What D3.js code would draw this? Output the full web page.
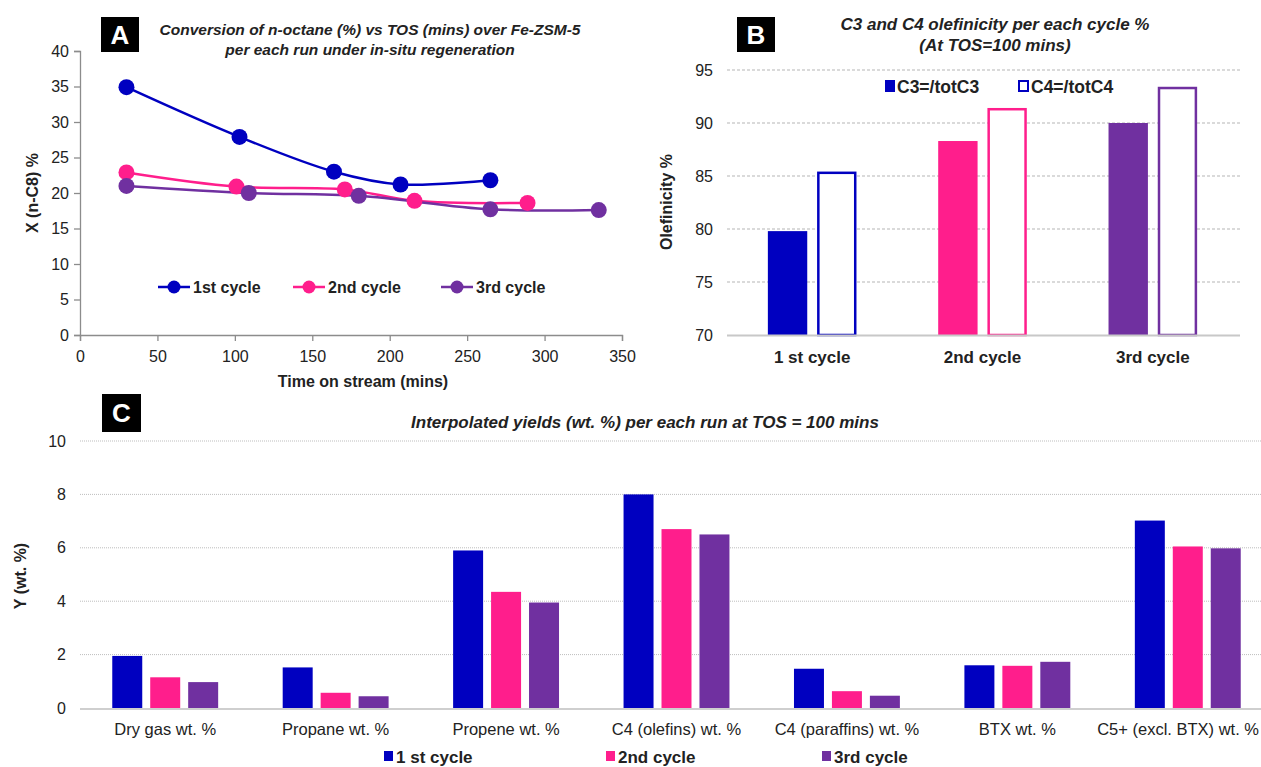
<!DOCTYPE html>
<html>
<head>
<meta charset="utf-8">
<script src="https://cdn.jsdelivr.net/npm/d3@7"></script>
<style>
  body { margin: 0; background: #fff; }
  svg { font-family: "Liberation Sans", Arial, sans-serif; }
</style>
</head>
<body>
<svg id="chart" width="1261" height="767"></svg>
<script>
// ---- data ----
const cycles = ["1st cycle", "2nd cycle", "3rd cycle"];
const colors = ["#0000C0", "#FF1E8C", "#7030A0"];

// panel A: conversion vs TOS
const tos1 = [30, 103, 164, 207, 265];
const conv1 = [34.9, 27.9, 23.0, 21.2, 21.8];
const tos2 = [30, 101, 171, 216, 289];
const conv2 = [22.9, 20.9, 20.5, 18.9, 18.6];
const tos3 = [30, 109, 180, 265, 335];
const conv3 = [21.0, 20.0, 19.6, 17.7, 17.6];

// panel B: olefinicity
const cycleLabelsB = ["1 st cycle", "2nd cycle", "3rd cycle"];
const c3Olef = [79.8, 88.3, 90.0];
const c4Olef = [85.3, 91.3, 93.3];

// panel C: yields
const products = ["Dry gas wt. %", "Propane wt. %", "Propene wt. %", "C4 (olefins) wt. %",
  "C4 (paraffins) wt. %", "BTX wt. %", "C5+ (excl. BTX) wt. %"];
const yield1 = [1.95, 1.52, 5.9, 8.0, 1.47, 1.6, 7.02];
const yield2 = [1.15, 0.57, 4.35, 6.7, 0.63, 1.58, 6.05];
const yield3 = [0.97, 0.44, 3.95, 6.5, 0.46, 1.73, 5.98];
const legendC = ["1 st cycle", "2nd cycle", "3rd cycle"];

const svg = d3.select("#chart");

function panelBox(x, y, w, h, letter) {
  svg.append("rect").attr("x", x).attr("y", y).attr("width", w).attr("height", h).attr("fill", "#000");
  svg.append("text").attr("x", x + w / 2).attr("y", y + h / 2 + 9)
    .attr("text-anchor", "middle").attr("fill", "#fff")
    .attr("font-size", 26).attr("font-weight", "bold").text(letter);
}

function title(g, x, y, size, txt) {
  g.append("text").attr("x", x).attr("y", y).attr("text-anchor", "middle")
    .attr("font-size", size).attr("font-weight", "bold").attr("font-style", "italic").attr("fill", "#222")
    .text(txt);
}

// ================= Panel A =================
const xA = d3.scaleLinear().domain([0, 350]).range([80, 622]);
const yA = d3.scaleLinear().domain([0, 40]).range([335, 51]);

const gA = svg.append("g");
const axA = gA.append("g").attr("transform", "translate(0,335)")
  .call(d3.axisBottom(xA).tickValues(d3.range(0, 351, 50)).tickSize(6).tickPadding(10));
const ayA = gA.append("g").attr("transform", "translate(80,0)")
  .call(d3.axisLeft(yA).tickValues(d3.range(0, 41, 5)).tickSize(6).tickPadding(5));
[axA, ayA].forEach(a => {
  a.select(".domain").attr("stroke", "#8c8c8c").attr("stroke-width", 1.3);
  a.selectAll(".tick line").attr("stroke", "#8c8c8c").attr("stroke-width", 1.3);
  a.selectAll("text").attr("font-size", 16).attr("fill", "#222").attr("font-family", "Liberation Sans, Arial");
});

const seriesA = [
  tos1.map((t, i) => [t, conv1[i]]),
  tos2.map((t, i) => [t, conv2[i]]),
  tos3.map((t, i) => [t, conv3[i]])
];
const lineA = d3.line().x(d => xA(d[0])).y(d => yA(d[1])).curve(d3.curveCatmullRom.alpha(0.5));
seriesA.forEach((s, k) => {
  gA.append("path").datum(s).attr("fill", "none").attr("stroke", colors[k])
    .attr("stroke-width", 2.5).attr("d", lineA);
});
seriesA.forEach((s, k) => {
  gA.selectAll(null).data(s).join("circle")
    .attr("cx", d => xA(d[0])).attr("cy", d => yA(d[1])).attr("r", 8)
    .attr("fill", colors[k]);
});

gA.append("text").attr("x", 363).attr("y", 387).attr("text-anchor", "middle")
  .attr("font-size", 16).attr("font-weight", "bold").attr("fill", "#222").text("Time on stream (mins)");
gA.append("text").attr("transform", "translate(38,193) rotate(-90)").attr("text-anchor", "middle")
  .attr("font-size", 16).attr("font-weight", "bold").attr("fill", "#222").text("X (n-C8) %");

title(gA, 370, 35, 15.5, "Conversion of n-octane (%) vs TOS (mins) over Fe-ZSM-5");
title(gA, 370, 55, 15.5, "per each run under in-situ  regeneration");

const legA = [158, 293, 441];
cycles.forEach((c, k) => {
  const lx = legA[k];
  gA.append("line").attr("x1", lx).attr("x2", lx + 32).attr("y1", 287).attr("y2", 287)
    .attr("stroke", colors[k]).attr("stroke-width", 2.5);
  gA.append("circle").attr("cx", lx + 16).attr("cy", 287).attr("r", 6.5).attr("fill", colors[k]);
  gA.append("text").attr("x", lx + 35).attr("y", 293).attr("font-size", 16).attr("font-weight", "bold")
    .attr("fill", "#222").text(c);
});
panelBox(101, 17, 38, 35, "A");

// ================= Panel B =================
const xB = d3.scaleBand().domain(cycleLabelsB).range([727, 1238]);
const subB = d3.scaleBand().domain(["C3", "C4"]).range([0, xB.bandwidth()]).paddingInner(0.2).paddingOuter(0.83);
const yB = d3.scaleLinear().domain([70, 95]).range([335, 70]);
const gB = svg.append("g");

gB.selectAll(null).data(d3.range(75, 96, 5)).join("line")
  .attr("x1", 727).attr("x2", 1240).attr("y1", d => yB(d)).attr("y2", d => yB(d))
  .attr("stroke", "#b5b5b5").attr("stroke-width", 1).attr("stroke-dasharray", "3,2");
const ayB = gB.append("g").attr("transform", "translate(727,0)")
  .call(d3.axisLeft(yB).tickValues(d3.range(70, 96, 5)).tickSize(0).tickPadding(14));
ayB.select(".domain").remove();
ayB.selectAll("text").attr("font-size", 16).attr("fill", "#222").attr("font-family", "Liberation Sans, Arial");

cycleLabelsB.forEach((c, k) => {
  const bx = xB(c);
  gB.append("rect").attr("x", bx + subB("C3")).attr("y", yB(c3Olef[k]))
    .attr("width", subB.bandwidth()).attr("height", yB(70) - yB(c3Olef[k])).attr("fill", colors[k]);
  gB.append("rect").attr("x", bx + subB("C4") + 1.25).attr("y", yB(c4Olef[k]))
    .attr("width", subB.bandwidth() - 2.5).attr("height", yB(70) - yB(c4Olef[k]))
    .attr("fill", "#fff").attr("stroke", colors[k]).attr("stroke-width", 2.5);
});
gB.append("line").attr("x1", 727).attr("x2", 1240).attr("y1", 335.5).attr("y2", 335.5)
  .attr("stroke", "#c8c8c8").attr("stroke-width", 2);
const axB = gB.append("g").attr("transform", "translate(0,335)")
  .call(d3.axisBottom(xB).tickSize(0).tickPadding(16));
axB.select(".domain").remove();
axB.selectAll("text").attr("font-size", 17).attr("font-weight", "bold").attr("fill", "#222")
  .attr("font-family", "Liberation Sans, Arial");

gB.append("text").attr("transform", "translate(672,202) rotate(-90)").attr("text-anchor", "middle")
  .attr("font-size", 16).attr("font-weight", "bold").attr("fill", "#222").text("Olefinicity %");
title(gB, 995, 30, 17, "C3 and C4 olefinicity  per each cycle %");
title(gB, 995, 51, 17, "(At  TOS=100 mins)");

gB.append("rect").attr("x", 885).attr("y", 80).attr("width", 10).attr("height", 12).attr("fill", colors[0]);
gB.append("text").attr("x", 897).attr("y", 93).attr("font-size", 17.5).attr("font-weight", "bold")
  .attr("fill", "#222").text("C3=/totC3");
gB.append("rect").attr("x", 1019).attr("y", 81).attr("width", 9).attr("height", 10)
  .attr("fill", "#fff").attr("stroke", colors[0]).attr("stroke-width", 2);
gB.append("text").attr("x", 1031).attr("y", 93).attr("font-size", 17.5).attr("font-weight", "bold")
  .attr("fill", "#222").text("C4=/totC4");
panelBox(737, 17, 38, 35, "B");

// ================= Panel C =================
const xC = d3.scaleBand().domain(products).range([80, 1273]);
const subC = d3.scaleBand().domain([0, 1, 2]).range([0, xC.bandwidth()]).paddingInner(0.21).paddingOuter(0.85);
const yC = d3.scaleLinear().domain([0, 10]).range([708, 441]);
const gC = svg.append("g");

gC.selectAll(null).data(d3.range(2, 11, 2)).join("line")
  .attr("x1", 80).attr("x2", 1261).attr("y1", d => yC(d)).attr("y2", d => yC(d))
  .attr("stroke", "#bdbdbd").attr("stroke-width", 1).attr("stroke-dasharray", "1,1");
const ayC = gC.append("g").attr("transform", "translate(80,0)")
  .call(d3.axisLeft(yC).tickValues(d3.range(0, 11, 2)).tickSize(0).tickPadding(14));
ayC.select(".domain").remove();
ayC.selectAll("text").attr("font-size", 16).attr("fill", "#222").attr("font-family", "Liberation Sans, Arial");

const yieldsC = [yield1, yield2, yield3];
yieldsC.forEach((vals, k) => {
  gC.selectAll(null).data(products).join("rect")
    .attr("x", d => xC(d) + subC(k)).attr("y", (d, i) => yC(vals[i]))
    .attr("width", subC.bandwidth()).attr("height", (d, i) => yC(0) - yC(vals[i]))
    .attr("fill", colors[k]);
});
gC.append("line").attr("x1", 80).attr("x2", 1261).attr("y1", 709).attr("y2", 709)
  .attr("stroke", "#cfcfcf").attr("stroke-width", 2);
const axC = gC.append("g").attr("transform", "translate(0,708)")
  .call(d3.axisBottom(xC).tickSize(0).tickPadding(15));
axC.select(".domain").remove();
axC.selectAll("text").attr("font-size", 16.5).attr("fill", "#222").attr("font-family", "Liberation Sans, Arial");
// last label would run past the right edge: pin its end inside the picture
const lastP = products[products.length - 1];
axC.selectAll(".tick").filter(d => d === lastP).select("text")
  .attr("text-anchor", "end").attr("x", 1259 - (xC(lastP) + xC.bandwidth() / 2));

gC.append("text").attr("transform", "translate(26,576) rotate(-90)").attr("text-anchor", "middle")
  .attr("font-size", 16).attr("font-weight", "bold").attr("fill", "#222").text("Y (wt. %)");
title(gC, 645, 428, 17, "Interpolated yields (wt. %) per each run at TOS = 100 mins");

const legC = [384, 606, 822];
legendC.forEach((c, k) => {
  gC.append("rect").attr("x", legC[k]).attr("y", 751).attr("width", 9).attr("height", 10).attr("fill", colors[k]);
  gC.append("text").attr("x", legC[k] + 12).attr("y", 763).attr("font-size", 17).attr("font-weight", "bold")
    .attr("fill", "#222").text(c);
});
panelBox(102, 394, 39, 38, "C");
</script>
</body>
</html>
